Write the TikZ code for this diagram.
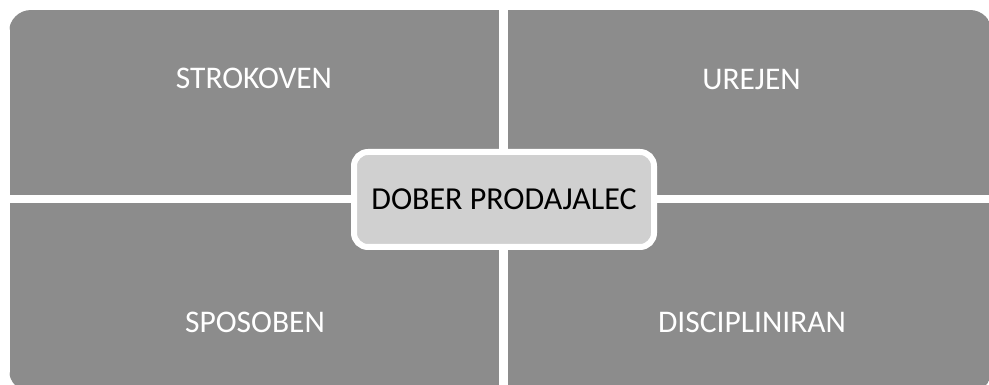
\documentclass[tikz,border=0pt]{standalone}
\usepackage{fontspec}
\setmainfont{Carlito}
\definecolor{quadgray}{HTML}{8C8C8C}
\definecolor{centergray}{HTML}{D0D0D0}
\tikzset{
  quad/.style={fill=quadgray, draw=white, line width=1pt},
  qlabel/.style={text=white, font=\fontsize{31.5}{37}\selectfont, inner sep=0pt, anchor=base},
  centerbox/.style={fill=centergray, draw=white, line width=6pt, rounded corners=14pt,
    minimum width=300pt, minimum height=95pt, inner sep=0pt,
    font=\fontsize{32}{38}\selectfont, text=black}
}
\begin{document}
\begin{tikzpicture}[x=1pt,y=-1pt]
\useasboundingbox (0,0) rectangle (989,385);
\fill[white] (0,0) rectangle (989,385);
\begin{scope}
  \clip[rounded corners=22pt] (9,10) rectangle (992,392);
  \path[quad] (9,10) rectangle (499,196);
  \path[quad] (507,10) rectangle (992,196);
  \path[quad] (9,203) rectangle (499,392);
  \path[quad] (507,203) rectangle (992,392);
\end{scope}
\node[qlabel] (strokoven) at (254,89) {STROKOVEN};
\node[qlabel] (urejen) at (751.5,89.5) {UREJEN};
\node[qlabel] (sposoben) at (255,332) {SPOSOBEN};
\node[qlabel] (discipliniran) at (752,332) {DISCIPLINIRAN};
\node[centerbox] (center) at (504,199.5) {DOBER PRODAJALEC};
\end{tikzpicture}
\end{document}
